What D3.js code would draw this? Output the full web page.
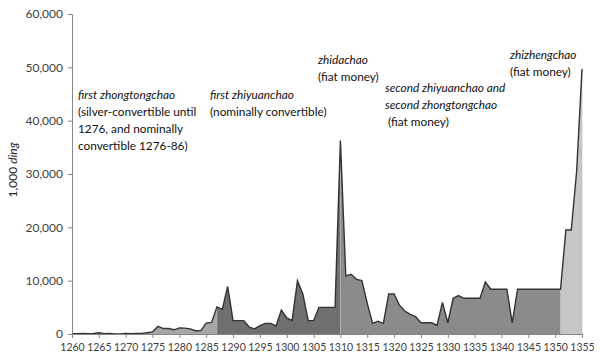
<!DOCTYPE html>
<html>
<head>
<meta charset="utf-8">
<script src="https://cdn.jsdelivr.net/npm/d3@7/dist/d3.min.js"></script>
<style>
  body { margin: 0; background: #fff; }
  svg { display: block; }
  text { font-family: Lato, "Open Sans", sans-serif; white-space: pre; }
</style>
</head>
<body>
<svg id="chart" width="600" height="360"></svg>
<script>
// ---- data (1,000 ding issued per year) ----
const years = d3.range(1260, 1356);
const issued = [
  73, 39, 80, 74, 89, 230, 77, 109, 30, 23,          // 1260-1269
  97, 47, 86, 110, 247, 398, 1420, 1020, 1020, 790,  // 1270-1279
  1140, 1100, 970, 610, 630, 2040, 2180, 5090, 4620, 8900, // 1280-1289
  2500, 2500, 2500, 1300, 970, 1550, 2000, 2000, 1500, 4500, // 1290-1299
  3000, 2500, 10000, 7500, 2500, 2500, 5000, 5000, 5000, 5000, // 1300-1309
  36260, 10900, 11200, 10250, 10000, 5750, 2000, 2400, 2000, 7500, // 1310-1319
  7500, 5400, 4300, 3700, 3250, 2100, 2100, 2100, 1600, 5900, // 1320-1329
  2100, 6700, 7200, 6700, 6700, 6700, 6700, 9750, 8400, 8400, // 1330-1339
  8400, 8400, 2100, 8400, 8400, 8400, 8400, 8400, 8400, 8400, // 1340-1349
  8400, 8400, 19500, 19500, 30500, 49700               // 1350-1355
];
const regimeBounds = [1260, 1287, 1310, 1351, 1355];
const xTicks = d3.range(1260, 1356, 5);
const yTicks = [0, 10000, 20000, 30000, 40000, 50000, 60000];
const annotations = [
  [{t: "first zhongtongchao", i: true}, {t: "(silver-convertible until"}, {t: "1276, and nominally"}, {t: "convertible 1276-86)"}],
  [{t: "first zhiyuanchao", i: true}, {t: "(nominally convertible)"}],
  [{t: "zhidachao", i: true}, {t: "(fiat money)"}],
  [{t: "second zhiyuanchao and", i: true}, {t: "second zhongtongchao", i: true}, {t: " (fiat money)"}],
  [{t: "zhizhengchao", i: true}, {t: "(fiat money)"}]
];

// ---- styles / layout ----
const regimeColors = ["#a6a6a6", "#707070", "#8b8b8b", "#c6c6c6"];
const annoPos = [[78, 95], [210, 95], [318, 60], [385, 88], [510, 55]];
const lineGap = 17;
const margin = {left: 72, right: 18, top: 14, bottom: 26};
const W = 600, H = 360;

const data = years.map((y, i) => ({year: y, v: issued[i]}));

const svg = d3.select("#chart");
const x = d3.scaleLinear().domain([1260, 1355]).range([margin.left, W - margin.right]);
const y = d3.scaleLinear().domain([0, 60000]).range([H - margin.bottom, margin.top]);

// regime areas
const area = d3.area().x(d => x(d.year)).y0(y(0)).y1(d => y(d.v));
for (let r = 0; r < regimeBounds.length - 1; r++) {
  const seg = data.filter(d => d.year >= regimeBounds[r] && d.year <= regimeBounds[r + 1]);
  svg.append("path").datum(seg)
    .attr("d", area)
    .attr("fill", regimeColors[r])
    .attr("stroke", "none");
}
// faint boundary lines
svg.selectAll("line.bound").data(regimeBounds.slice(1))
  .enter().append("line")
  .attr("x1", d => x(d)).attr("x2", d => x(d))
  .attr("y1", y(0)).attr("y2", d => y(data.find(e => e.year === d).v))
  .attr("stroke", "#b8b8b8").attr("stroke-width", 0.6);

// outline
const line = d3.line().x(d => x(d.year)).y(d => y(d.v));
svg.append("path").datum(data)
  .attr("d", line)
  .attr("fill", "none")
  .attr("stroke", "#333")
  .attr("stroke-width", 1.4)
  .attr("stroke-linejoin", "miter");

// axes
const axisColor = "#868686";
const gx = svg.append("g").attr("transform", `translate(0,${y(0)})`)
  .call(d3.axisBottom(x).tickValues(xTicks).tickFormat(d3.format("d")).tickSize(4).tickPadding(6));
const gy = svg.append("g").attr("transform", `translate(${margin.left},0)`)
  .call(d3.axisLeft(y).tickValues(yTicks).tickFormat(d3.format(",")).tickSize(4).tickPadding(5));
[gx, gy].forEach(g => {
  g.select(".domain").attr("stroke", axisColor);
  g.selectAll(".tick line").attr("stroke", axisColor);
  g.selectAll(".tick text").attr("fill", "#404040").style("font-family", "Lato, sans-serif");
});
gx.selectAll(".tick text").style("font-size", "10.5px");
gy.selectAll(".tick text").style("font-size", "12px");

// y title
svg.append("text")
  .attr("transform", `translate(17,170) rotate(-90)`)
  .attr("text-anchor", "middle")
  .style("font-size", "12px")
  .attr("fill", "#222")
  .call(t => {
    t.append("tspan").text("1,000 ");
    t.append("tspan").style("font-style", "italic").text("ding");
  });

// annotations
annotations.forEach((lines, k) => {
  const [ax, ay] = annoPos[k];
  lines.forEach((ln, j) => {
    svg.append("text")
      .attr("x", ax).attr("y", ay + j * lineGap)
      .attr("dy", "0.35em")
      .style("font-size", "11.8px")
      .style("font-style", ln.i ? "italic" : "normal")
      .attr("fill", "#111")
      .text(ln.t);
  });
});
</script>
</body>
</html>
